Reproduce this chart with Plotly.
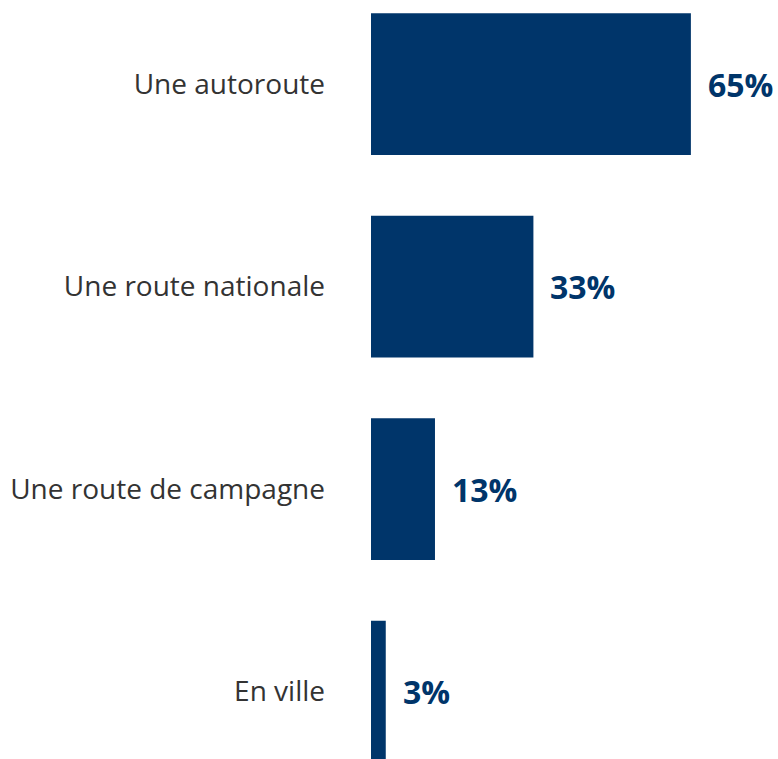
import plotly.graph_objects as go

categories = ["Une autoroute", "Une route nationale", "Une route de campagne", "En ville"]
values = [65, 33, 13, 3]
value_labels = ["65%", "33%", "13%", "3%"]

navy = "#00356A"

fig = go.Figure(
    go.Bar(
        x=values,
        y=categories,
        orientation="h",
        marker=dict(color=navy, line=dict(width=0)),
        width=0.7,
        hoverinfo="x+y",
    )
)

# Percentage labels placed just right of each bar end
for cat, val, lab in zip(categories, values, value_labels):
    fig.add_annotation(
        x=val,
        y=cat,
        text=lab,
        showarrow=False,
        xanchor="left",
        yanchor="middle",
        xshift=15,
        font=dict(family="Open Sans", size=32, color=navy, weight="bold"),
    )

fig.update_layout(
    width=778,
    height=759,
    margin=dict(l=371, r=0, t=0, b=0),
    paper_bgcolor="white",
    plot_bgcolor="white",
    showlegend=False,
    xaxis=dict(visible=False, range=[0, 82.7], fixedrange=True),
    yaxis=dict(
        type="category",
        categoryorder="array",
        categoryarray=categories,
        range=[3.333, -0.415],
        showgrid=False,
        zeroline=False,
        showline=False,
        ticks="",
        ticklabelstandoff=45,
        tickfont=dict(family="Open Sans", size=28, color="#333333"),
    ),
)

fig.write_html("out.html")
